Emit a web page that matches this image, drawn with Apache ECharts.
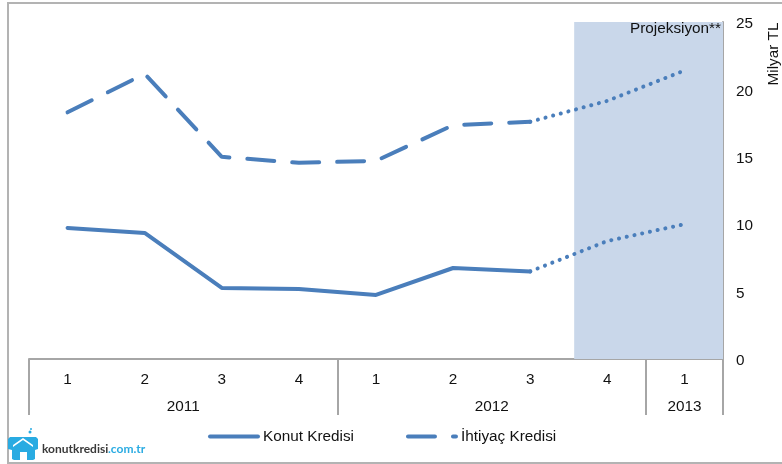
<!DOCTYPE html>
<html><head><meta charset="utf-8">
<style>html,body{margin:0;padding:0;background:#fff}#c{width:782px;height:464px}</style>
<script src="https://cdn.jsdelivr.net/npm/echarts@6/dist/echarts.min.js"></script>
</head><body><div id="c"></div>
<script>
const quarters = ['1','2','3','4','1','2','3','4','1'];
const years = ['2011','2012','2013'];
const yearCenters = [2, 6, 8.5];
const yearEdges = [0, 4, 8, 9];
const konut = [9.72, 9.35, 5.27, 5.2, 4.75, 6.75, 6.5, 8.75, 10.0];
const ihtiyac = [18.3, 21.15, 15.0, 14.55, 14.7, 17.35, 17.6, 19.15, 21.4];
const lastActual = 6;
const bandStart = 7.07, bandEnd = 9;
const actual = a => a.map((v, i) => i <= lastActual ? v : null);
const projected = a => a.map((v, i) => i >= lastActual ? v : null);
const BLUE = '#4a7ebb', GREY = '#a6a6a6', FONT = '"Liberation Sans", Arial, sans-serif', FS = 15.3;
const chart = echarts.init(document.getElementById('c'));
chart.setOption({
  animation: false,
  textStyle: {fontFamily: FONT},
  grid: {left: 29, right: 59, top: 22, bottom: 105, containLabel: false},
  legend: {
    left: 203, top: 424, itemWidth: 48, itemHeight: 14, itemGap: 52,
    itemStyle: {color: 'transparent', borderWidth: 0, opacity: 0},
    lineStyle: {width: 4, cap: 'round'},
    textStyle: {fontSize: FS, color: '#111', fontFamily: FONT},
    data: ['Konut Kredisi', 'İhtiyaç Kredisi']
  },
  xAxis: [
    {type: 'category', data: quarters, boundaryGap: true, position: 'bottom',
     axisLine: {show: true, onZero: false, lineStyle: {color: GREY, width: 2}}, axisTick: {show: false},
     axisLabel: {interval: 0, margin: 13, fontSize: FS, color: '#111'}},
    {type: 'value', min: 0, max: 9, position: 'bottom', splitLine: {show: false},
     axisLine: {show: false, onZero: false},
     axisTick: {show: true, length: 56, customValues: yearEdges, lineStyle: {color: GREY, width: 2}},
     axisLabel: {margin: 40, fontSize: FS, color: '#111', customValues: yearCenters,
       formatter: v => years[yearCenters.indexOf(v)]}}
  ],
  yAxis: {type: 'value', min: 0, max: 25, interval: 5, position: 'right', splitLine: {show: false},
    axisLine: {show: true, onZero: false, lineStyle: {color: GREY, width: 2}}, axisTick: {show: false},
    axisLabel: {margin: 13, fontSize: FS, color: '#111', verticalAlign: 'top', lineHeight: 4}},
  series: [
    {type: 'line', name: 'band', xAxisIndex: 1, data: [], silent: true, z: 1,
     markArea: {silent: true, itemStyle: {color: '#c9d7ea'}, label: {show: false},
       data: [[{xAxis: bandStart, yAxis: 0}, {xAxis: bandEnd, yAxis: 25}]]}},
    {type: 'line', name: 'Konut Kredisi', data: actual(konut), symbol: 'none', z: 3,
     itemStyle: {color: BLUE}, lineStyle: {color: BLUE, width: 4, cap: 'round'}},
    {type: 'line', name: 'konutProj', data: projected(konut), symbol: 'none', z: 3,
     lineStyle: {color: BLUE, width: 4, type: [0.1, 7.8], cap: 'round'}},
    {type: 'line', name: 'İhtiyaç Kredisi', data: actual(ihtiyac), symbol: 'none', z: 3,
     itemStyle: {color: BLUE}, lineStyle: {color: BLUE, width: 4, type: [27, 18], cap: 'round'}},
    {type: 'line', name: 'ihtiyacProj', data: projected(ihtiyac), symbol: 'none', z: 3,
     lineStyle: {color: BLUE, width: 4, type: [0.1, 7.8], cap: 'round'}}
  ],
  graphic: [
    {type: 'rect', shape: {x: 8, y: 3, width: 790, height: 460}, z: -1, silent: true,
     style: {fill: 'none', stroke: '#b3b3b3', lineWidth: 2}},
    {type: 'text', right: 61, top: 21, z: 10, silent: true,
     style: {text: 'Projeksiyon**', fontSize: FS, fill: '#111', fontFamily: FONT}},
    {type: 'text', x: 774, y: 54, rotation: Math.PI / 2, z: 10, silent: true,
     style: {text: 'Milyar TL', fontSize: FS, fill: '#111', fontFamily: FONT, align: 'center', verticalAlign: 'middle'}},
    {type: 'polygon', silent: true, z: 10,
     shape: {points: [[10,437],[36,437],[38,439],[38,449],[35,450],[35,459],[33,460],[27,460],[27,452],[20,452],[20,460],[14,460],[12,459],[12,450],[8,449],[8,439]]},
     style: {fill: '#29abe2'}},
    {type: 'polygon', silent: true, z: 11,
     shape: {points: [[23,440],[33,447],[33,445],[23,438],[13,445],[13,447]]},
     style: {fill: '#ffffff'}},
    {type: 'circle', silent: true, z: 10, shape: {cx: 30, cy: 432, r: 1.5}, style: {fill: '#29abe2'}},
    {type: 'circle', silent: true, z: 10, shape: {cx: 31, cy: 429, r: 1}, style: {fill: '#29abe2'}},
    {type: 'text', left: 42, top: 443, z: 10, silent: true,
     style: {text: 'konutkredisi', fontSize: 12, fontWeight: 'bold', fill: '#3a3a3a', fontFamily: 'Lato'}},
    {type: 'text', left: 108, top: 443, z: 10, silent: true,
     style: {text: '.com.tr', fontSize: 12, fontWeight: 'bold', fill: '#29abe2', fontFamily: 'Lato'}}
  ]
});
</script></body></html>
